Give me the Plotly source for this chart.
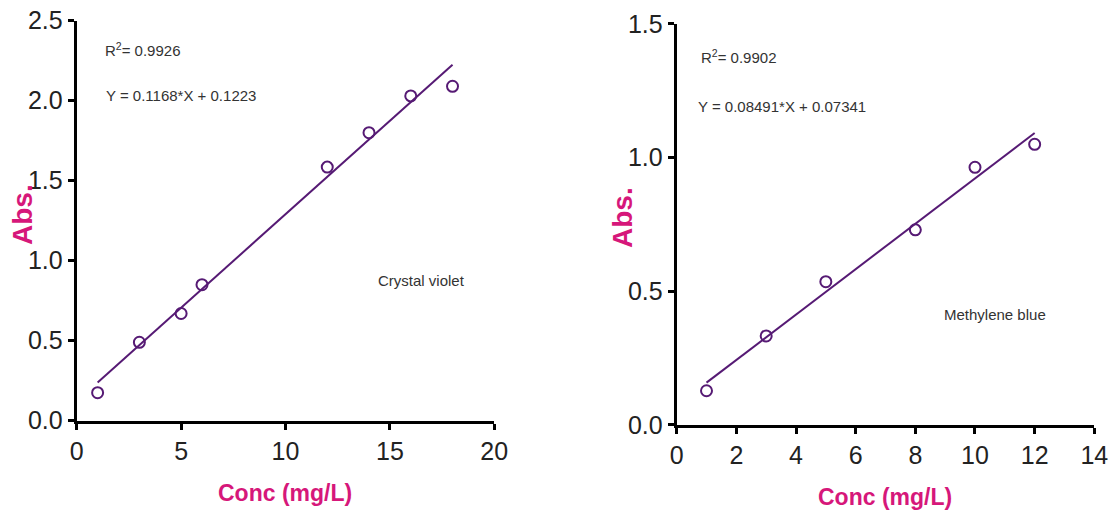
import plotly.graph_objects as go

# Calibration data: crystal violet
cv_conc = [1, 3, 5, 6, 12, 14, 16, 18]
cv_abs = [0.175, 0.49, 0.67, 0.85, 1.585, 1.80, 2.03, 2.09]
cv_slope, cv_intercept = 0.1168, 0.1223
cv_r2 = "0.9926"

# Calibration data: methylene blue
mb_conc = [1, 3, 5, 8, 10, 12]
mb_abs = [0.128, 0.333, 0.536, 0.73, 0.964, 1.05]
mb_slope, mb_intercept = 0.08491, 0.07341
mb_r2 = "0.9902"

cv_ticks_x = [0, 5, 10, 15, 20]
cv_ticks_y = [0.0, 0.5, 1.0, 1.5, 2.0, 2.5]
mb_ticks_x = [0, 2, 4, 6, 8, 10, 12, 14]
mb_ticks_y = [0.0, 0.5, 1.0, 1.5]

PURPLE = "#561a74"
PINK = "#d6177a"
NARROW = "Liberation Sans Narrow, Liberation Sans, Arial, sans-serif"
BOLD = "Liberation Sans, Arial, sans-serif"

fig = go.Figure()


def add_panel(conc, absb, slope, intercept, xa, ya):
    x0, x1 = min(conc), max(conc)
    fig.add_trace(go.Scatter(
        x=[x0, x1], y=[slope * x0 + intercept, slope * x1 + intercept],
        mode="lines", line=dict(color=PURPLE, width=2),
        xaxis=xa, yaxis=ya, showlegend=False, hoverinfo="skip"))
    fig.add_trace(go.Scatter(
        x=conc, y=absb, mode="markers",
        marker=dict(symbol="circle-open", size=11, color=PURPLE,
                    line=dict(width=2, color=PURPLE)),
        xaxis=xa, yaxis=ya, showlegend=False))


add_panel(cv_conc, cv_abs, cv_slope, cv_intercept, "x", "y")
add_panel(mb_conc, mb_abs, mb_slope, mb_intercept, "x2", "y2")

axis_common = dict(
    showline=True, linewidth=3, linecolor="#000", mirror=False,
    ticks="outside", ticklen=6, tickwidth=2.5, tickcolor="#000",
    showgrid=False, zeroline=False, automargin=False,
    tickfont=dict(family=NARROW, size=25, color="#222"),
)

fig.update_layout(
    width=1117, height=515,
    margin=dict(l=0, r=0, t=0, b=0, pad=0),
    paper_bgcolor="white", plot_bgcolor="white",
    xaxis=dict(domain=[0.0687, 0.4425], range=[0, 20], tickvals=cv_ticks_x,
               anchor="y", **axis_common),
    yaxis=dict(domain=[0.1831, 0.9598], range=[0, 2.5], tickvals=cv_ticks_y,
               tickformat=".1f", anchor="x", **axis_common),
    xaxis2=dict(domain=[0.6058, 0.9797], range=[0, 14], tickvals=mb_ticks_x,
                anchor="y2", **axis_common),
    yaxis2=dict(domain=[0.1748, 0.9534], range=[0, 1.5], tickvals=mb_ticks_y,
                tickformat=".1f", anchor="x2", **axis_common),
)

ann_font = dict(family=NARROW, size=15, color="#333")


def note(x, y, text, xa, ya):
    return dict(x=x, y=y, xref=xa, yref=ya, xanchor="left", yanchor="middle",
                text=text, showarrow=False, font=ann_font)


def title(px, py, text, angle, font):
    return dict(x=px / 1117, y=1 - py / 515, xref="paper", yref="paper",
                xanchor="center", yanchor="middle", textangle=angle,
                text=text, showarrow=False, font=font)


xt_font = dict(family=NARROW, size=23, color=PINK)
yt_font = dict(family=BOLD, size=28, color=PINK)

annotations = [
    note(1.26, 2.317, "R<sup>2</sup>= " + cv_r2, "x", "y"),
    note(1.3, 2.035, f"Y = {cv_slope}*X + {cv_intercept}", "x", "y"),
    note(14.33, 0.879, "Crystal violet", "x", "y"),
    note(0.75, 1.377, "R<sup>2</sup>= " + mb_r2, "x2", "y2"),
    note(0.64, 1.19, f"Y = {mb_slope}*X + {mb_intercept}", "x2", "y2"),
    note(8.89, 0.415, "Methylene blue", "x2", "y2"),
    title(284.5, 493, "<b>Conc (mg/L)</b>", 0, xt_font),
    title(885, 497, "<b>Conc (mg/L)</b>", 0, xt_font),
    title(22, 215, "<b>Abs.</b>", -90, yt_font),
    title(622, 218, "<b>Abs.</b>", -90, yt_font),
]
fig.update_layout(annotations=annotations)

fig.write_html("out.html")
